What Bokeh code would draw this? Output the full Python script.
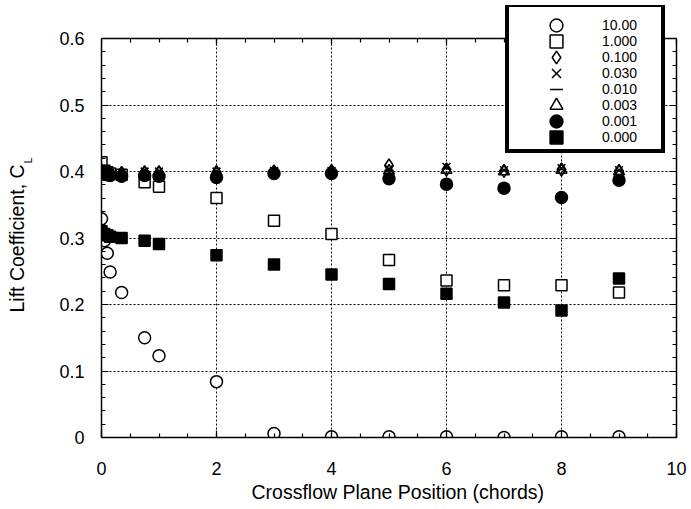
from bokeh.plotting import figure
from bokeh.models import (Range1d, LinearAxis, FixedTicker, Legend, LegendItem, Title)
from bokeh.embed import file_html
from bokeh.resources import INLINE

# ---- data ----
x_pos = [0, 0.05, 0.1, 0.15, 0.35, 0.75, 1, 2, 3, 4, 5, 6, 7, 8, 9]

cl_10_00 = [0.329, 0.296, 0.277, 0.249, 0.218, 0.150, 0.123, 0.084, 0.006,
            0.001, 0.001, 0.001, 0.000, 0.001, 0.001]
cl_1_000 = [0.414, 0.401, 0.399, 0.397, 0.395, 0.384, 0.377, 0.360, 0.326,
            0.306, 0.267, 0.236, 0.229, 0.229, 0.218]
cl_0_100 = [0.402, 0.400, 0.399, 0.398, 0.398, 0.399, 0.399, 0.399, 0.400,
            0.401, 0.409, 0.403, 0.401, 0.403, 0.401]
cl_0_030 = [0.401, 0.400, 0.399, 0.398, 0.398, 0.400, 0.400, 0.400, 0.401,
            0.401, 0.404, 0.407, 0.402, 0.405, 0.402]
cl_0_010 = [0.400, 0.399, 0.398, 0.398, 0.397, 0.399, 0.399, 0.399, 0.400,
            0.400, 0.402, 0.404, 0.401, 0.403, 0.401]
cl_0_003 = [0.400, 0.399, 0.398, 0.397, 0.397, 0.398, 0.398, 0.399, 0.399,
            0.400, 0.401, 0.402, 0.400, 0.402, 0.400]
cl_0_001 = [0.398, 0.396, 0.395, 0.394, 0.393, 0.394, 0.393, 0.391, 0.397,
            0.397, 0.389, 0.381, 0.375, 0.361, 0.387]
cl_0_000 = [0.310, 0.306, 0.304, 0.302, 0.300, 0.296, 0.291, 0.274, 0.260,
            0.245, 0.231, 0.216, 0.203, 0.191, 0.239]

legend_labels = ["10.00", "1.000", "0.100", "0.030", "0.010", "0.003", "0.001", "0.000"]

x_ticks = [0, 2, 4, 6, 8, 10]
x_minor = [i * 0.5 for i in range(21)]
y_ticks = [0, 0.1, 0.2, 0.3, 0.4, 0.5, 0.6]
y_tick_labels = ["0", "0.1", "0.2", "0.3", "0.4", "0.5", "0.6"]
y_minor = [i * 0.02 for i in range(31)]

x_title = "Crossflow Plane Position (chords)"
y_title = "Lift Coefficient, C"
y_title_sub = "L"

FONT = "Liberation Sans"

# ---- layout (pixels) ----
W, H = 691, 509
F_LEFT, F_RIGHT, F_TOP, F_BOTTOM = 101, 676, 5, 437
AXIS_TOP_PX = 38          # where the top of the axes box (0.6) sits
y_end = y_ticks[-1] * (F_BOTTOM - F_TOP) / (F_BOTTOM - AXIS_TOP_PX)
y_box = (y_ticks[0], y_ticks[-1])

p = figure(width=W, height=H, x_range=Range1d(x_ticks[0], x_ticks[-1]),
           y_range=Range1d(y_ticks[0], y_end),
           output_backend="svg", toolbar_location=None,
           min_border_left=F_LEFT, min_border_right=W - F_RIGHT,
           min_border_top=F_TOP, min_border_bottom=H - F_BOTTOM)
p.background_fill_color = "white"
p.border_fill_color = "white"
p.outline_line_color = None

left_ax = p.left[0]
bottom_ax = p.below[0]
left_ax.ticker = FixedTicker(ticks=y_ticks, minor_ticks=y_minor)
left_ax.bounds = y_box
left_ax.major_label_overrides = {t: l for t, l in zip(y_ticks, y_tick_labels)}
bottom_ax.ticker = FixedTicker(ticks=x_ticks, minor_ticks=x_minor)

top_ax = LinearAxis(ticker=FixedTicker(ticks=x_ticks, minor_ticks=x_minor),
                    fixed_location=y_ticks[-1])
right_ax = LinearAxis(ticker=FixedTicker(ticks=y_ticks, minor_ticks=y_minor), bounds=y_box)
p.add_layout(top_ax, "above")
p.add_layout(right_ax, "right")

for ax in [bottom_ax, left_ax, top_ax, right_ax]:
    ax.axis_line_color = "black"
    ax.axis_line_width = 1.5
    ax.major_tick_line_color = "black"
    ax.minor_tick_line_color = "black"
    ax.major_tick_line_width = 1.2
    ax.minor_tick_line_width = 1.2
    ax.major_tick_in = 7
    ax.major_tick_out = 0
    ax.minor_tick_in = 4
    ax.minor_tick_out = 0
    ax.major_label_text_font = FONT
    ax.major_label_text_font_size = "18px"
    ax.major_label_text_color = "black"
top_ax.major_label_overrides = {t: "" for t in x_ticks}
right_ax.major_label_overrides = {t: "" for t in y_ticks}
for ax in [top_ax, right_ax]:
    ax.major_label_text_color = None
    ax.major_label_text_font_size = "1px"
    ax.major_label_standoff = 0
bottom_ax.major_label_standoff = 24
left_ax.major_label_standoff = 17


def make_title(text, size, align, offset, valign, standoff, color="black"):
    t = Title(text=text, align=align, offset=offset, vertical_align=valign,
              text_font=FONT, text_font_size=size, text_font_style="normal",
              text_color=color)
    try:
        t.standoff = standoff
    except ValueError:
        t.standoff = max(standoff, 0)
    return t


# x title below the tick labels
p.add_layout(make_title(x_title, "19.5px", "left", 150, "middle", 4), "below")

# y title: a blank (white space) spacer, then the subscript, then the main text
p.add_layout(make_title(" ", "20px", "left", 0, "bottom", -1, color="white"), "left")
p.add_layout(make_title(y_title_sub, "11px", "left", 274, "bottom", 0), "left")
p.add_layout(make_title(y_title, "19.5px", "left", 125, "bottom", -16), "left")

# grid: horizontal lines from the ticker, vertical lines limited to the box
p.xgrid.visible = False
p.ygrid.ticker = FixedTicker(ticks=y_ticks)
p.ygrid.grid_line_color = "black"
p.ygrid.grid_line_width = 1
p.ygrid.grid_line_dash = "2 2"
vx = x_ticks[1:-1]
p.segment(x0=vx, y0=[y_box[0]] * len(vx), x1=vx, y1=[y_box[1]] * len(vx),
          line_color="black", line_width=1, line_dash="2 2")

# data
lw = 1.5
r10 = p.scatter(x_pos, cl_10_00, marker="circle", size=12, line_color="black",
                fill_color="white", line_width=lw)
r1 = p.scatter(x_pos, cl_1_000, marker="square", size=11, line_color="black",
               fill_color="white", line_width=lw)
r0 = p.scatter(x_pos, cl_0_000, marker="square", size=11, line_color="black",
               fill_color="black", line_width=lw)
r0001 = p.scatter(x_pos, cl_0_001, marker="circle", size=12, line_color="black",
                  fill_color="black", line_width=lw)
r01 = p.scatter(x_pos, cl_0_100, marker="diamond", size=13, line_color="black",
                fill_color=None, line_width=lw)
r003 = p.scatter(x_pos, cl_0_030, marker="x", size=11, line_color="black",
                 line_width=lw)
r001 = p.scatter(x_pos, cl_0_010, marker="dash", size=9, line_color="black",
                 line_width=lw)
r0003 = p.scatter(x_pos, cl_0_003, marker="triangle", size=11, line_color="black",
                  fill_color=None, line_width=lw)
blank = p.scatter([], [], marker="circle", size=1, line_alpha=0, fill_alpha=0)

# legend: a framed box, then two interleaved columns of entries
box_legend = Legend(items=[LegendItem(label="box", renderers=[blank])],
                    location=(404, 284), padding=0, margin=0, spacing=0,
                    glyph_width=150, glyph_height=142, label_standoff=0,
                    label_width=0, label_height=0, label_text_font_size="1px",
                    label_text_color=None,
                    border_line_color="black", border_line_width=4, border_line_alpha=1,
                    background_fill_color="white", background_fill_alpha=1)
p.add_layout(box_legend)

renderers = [r10, r1, r01, r003, r001, r0003, r0001, r0]
pairs = list(zip(legend_labels, renderers))
ROW = 32
for start, y_loc in [(0, 300), (1, 284)]:
    items = [LegendItem(label=l, renderers=[r]) for l, r in pairs[start::2]]
    lg = Legend(items=items, location=(425, y_loc), orientation="vertical",
                padding=0, margin=0, spacing=0,
                glyph_width=60, glyph_height=ROW, label_standoff=16,
                label_height=20, label_width=40,
                label_text_font=FONT, label_text_font_size="14px",
                label_text_color="black",
                border_line_color=None, background_fill_alpha=0.0)
    p.add_layout(lg)

open("out.html", "w").write(file_html(p, INLINE))
